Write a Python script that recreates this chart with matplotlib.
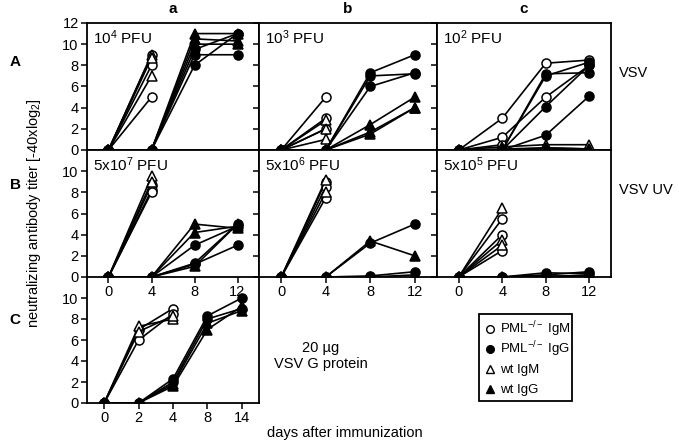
import matplotlib
matplotlib.use('Agg')
import matplotlib.pyplot as plt
from matplotlib.lines import Line2D
from matplotlib.patches import Rectangle
import numpy as np

plt.rcParams['font.family'] = ['Liberation Sans', 'DejaVu Sans']
plt.rcParams['mathtext.fontset'] = 'custom'
plt.rcParams['mathtext.rm'] = 'Liberation Sans'
plt.rcParams['mathtext.it'] = 'Liberation Sans:italic'
plt.rcParams['font.size'] = 10.5

nan = np.nan
days = [0, 4, 8, 12]
days_c = [0, 2, 4, 8, 14]

# row A: VSV
Aa_pml_igm = [[0, 9, nan, nan], [0, 8, nan, nan], [0, 5, nan, nan]]
Aa_wt_igm = [[0, 9, nan, nan], [0, 8.7, nan, nan], [0, 7, nan, nan]]
Aa_pml_igg = [[0, 0, 9, 9], [0, 0, 8, 11], [0, 0, 9.5, 11]]
Aa_wt_igg = [[0, 0, 11, 11], [0, 0, 10.5, 10.3], [0, 0, 10, 10]]

Ab_pml_igm = [[0, 5, nan, nan], [0, 3, nan, nan], [0, 2, nan, nan]]
Ab_wt_igm = [[0, 2.8, nan, nan], [0, 2, nan, nan], [0, 1, nan, nan]]
Ab_pml_igg = [[0, 0, 7.3, 9], [0, 0, 7, 7.2], [0, 0, 6, 7.3]]
Ab_wt_igg = [[0, 0, 2.4, 5], [0, 0, 1.7, 4], [0, 0, 1.5, 4]]

Ac_pml_igm = [[0, 3, 8.2, 8.5], [0, 1.2, 5, 8], [0, 0.5, nan, nan]]
Ac_wt_igm = [[0, 0.3, 0.5, 0.5], [0, 0.1, 0.2, 0.1]]
Ac_pml_igg = [[0, 0, 7.2, 7.3], [0, 0, 7, 8.3], [0, 0, 4.1, 8], [0, 0, 1.4, 5.1]]
Ac_wt_igg = [[0, 0, 0, 0], [0, 0, 0.2, 0.1]]

# row B: VSV UV
Ba_pml_igm = [[0, 8.7, nan, nan], [0, 8.2, nan, nan], [0, 8, nan, nan]]
Ba_wt_igm = [[0, 9.5, nan, nan], [0, 9, nan, nan]]
Ba_pml_igg = [[0, 0, 3, 4.8], [0, 0, 1.3, 5], [0, 0, 1.2, 3]]
Ba_wt_igg = [[0, 0, 5, 4.6], [0, 0, 4.2, 4.8], [0, 0, 1, 5]]

Bb_pml_igm = [[0, 9, nan, nan], [0, 8.5, nan, nan], [0, 7.5, nan, nan]]
Bb_wt_igm = [[0, 9.2, nan, nan], [0, 8, nan, nan]]
Bb_pml_igg = [[0, 0, 3.2, 5], [0, 0, 0.1, 0.5]]
Bb_wt_igg = [[0, 0, 3.4, 2], [0, 0, 0, 0.2]]

Bc_pml_igm = [[0, 5.5, nan, nan], [0, 4, nan, nan], [0, 2.5, nan, nan]]
Bc_wt_igm = [[0, 6.5, nan, nan], [0, 3.5, nan, nan], [0, 3, nan, nan]]
Bc_pml_igg = [[0, 0, 0.4, 0.3], [0, 0, 0.2, 0.5]]
Bc_wt_igg = [[0, 0, 0, 0.2], [0, 0, 0.1, 0.1]]

# row C: 20 ug VSV G protein
C_pml_igm = [[0, 7, 9, nan, nan], [0, 6, 8.5, nan, nan]]
C_wt_igm = [[0, 7.3, 8, nan, nan], [0, 6.8, 8.3, nan, nan]]
C_pml_igg = [[0, 0, 2.3, 8.3, 10], [0, 0, 2, 8, 9]]
C_wt_igg = [[0, 0, 1.6, 7, 9.2], [0, 0, 1.8, 7.6, 8.8]]

legend_labels = ['PML$^{-/-}$ IgM', 'PML$^{-/-}$ IgG', 'wt IgM', 'wt IgG']

panels = {
    (0, 0): (Aa_pml_igm, Aa_wt_igm, Aa_pml_igg, Aa_wt_igg, '10$^4$ PFU'),
    (0, 1): (Ab_pml_igm, Ab_wt_igm, Ab_pml_igg, Ab_wt_igg, '10$^3$ PFU'),
    (0, 2): (Ac_pml_igm, Ac_wt_igm, Ac_pml_igg, Ac_wt_igg, '10$^2$ PFU'),
    (1, 0): (Ba_pml_igm, Ba_wt_igm, Ba_pml_igg, Ba_wt_igg, '5x10$^7$ PFU'),
    (1, 1): (Bb_pml_igm, Bb_wt_igm, Bb_pml_igg, Bb_wt_igg, '5x10$^6$ PFU'),
    (1, 2): (Bc_pml_igm, Bc_wt_igm, Bc_pml_igg, Bc_wt_igg, '5x10$^5$ PFU'),
}

W, H = 679, 445
fig = plt.figure(figsize=(W / 100, H / 100), dpi=100)

cols = [(87, 259), (259, 437), (437, 611)]
rows = [(23, 150), (150, 277), (277, 403)]


def make_ax(c, r):
    x0, x1 = cols[c]
    y0, y1 = rows[r]
    ax = fig.add_axes([x0 / W, 1 - y1 / H, (x1 - x0) / W, (y1 - y0) / H])
    for s in ax.spines.values():
        s.set_linewidth(1.3)
    ax.tick_params(direction='out', length=4, width=1.1, pad=2, labelsize=10.5)
    ax.set_ylim(0, 12)
    return ax


def draw(ax, x, igm_pml, igm_wt, igg_pml, igg_wt):
    kw = dict(color='black', lw=1.2, ms=6.5, mew=1.1)
    for v in igm_pml:
        ax.plot(x, v, marker='o', mfc='white', **kw)
    for v in igm_wt:
        ax.plot(x, v, marker='^', mfc='white', **kw)
    for v in igg_pml:
        ax.plot(x, v, marker='o', mfc='black', **kw)
    for v in igg_wt:
        ax.plot(x, v, marker='^', mfc='black', **kw)


for (r, c), (pm, wm, pg, wg, lab) in panels.items():
    ax = make_ax(c, r)
    draw(ax, days, pm, wm, pg, wg)
    ax.set_xlim(-2, 14)
    ax.set_xticks(days)
    if r == 0:
        ax.set_yticks(range(0, 13, 2))
        ax.set_xticklabels([])
    else:
        ax.set_yticks(range(0, 11, 2))
    if c > 0:
        ax.set_yticklabels([])
    ax.text(0.035, 0.96, lab, transform=ax.transAxes, va='top', ha='left', fontsize=11)

# row C panel
axc = make_ax(0, 2)
draw(axc, range(len(days_c)), C_pml_igm, C_wt_igm, C_pml_igg, C_wt_igg)
axc.set_xlim(-0.5, 4.5)
axc.set_xticks(range(len(days_c)))
axc.set_xticklabels(days_c)
axc.set_yticks(range(0, 11, 2))
axc.spines['top'].set_visible(False)
axc.patch.set_visible(False)

# titles / labels
for lab, (x0, x1) in zip(['a', 'b', 'c'], cols):
    fig.text((x0 + x1) / 2 / W, 1 - 9 / H, lab, ha='center', va='center', fontsize=11, fontweight='bold')
for lab, yy in zip(['A', 'B', 'C'], [62, 185, 320]):
    fig.text(15 / W, 1 - yy / H, lab, ha='center', va='center', fontsize=11, fontweight='bold')
fig.text(619 / W, 1 - 73 / H, 'VSV', ha='left', va='center', fontsize=10.5)
fig.text(619 / W, 1 - 190 / H, 'VSV UV', ha='left', va='center', fontsize=10.5)
fig.text(34 / W, 1 - 213 / H, 'neutralizing antibody titer [-40xlog$_2$]', rotation=90,
         ha='center', va='center', fontsize=10.5)
fig.text(267 / W, 1 - 433 / H, 'days after immunization', ha='left', va='center', fontsize=10.5)
fig.text(321 / W, 1 - 356 / H, '20 µg\nVSV G protein', ha='center', va='center',
         fontsize=10.5, linespacing=1.15)

# legend box, drawn by hand so that the rows are evenly spaced
fig.add_artist(Rectangle((479 / W, 1 - 401 / H), 93 / W, 87 / H, transform=fig.transFigure,
                         fill=False, edgecolor='black', linewidth=1.3))
styles = [('o', 'white'), ('o', 'black'), ('^', 'white'), ('^', 'black')]
for (m, fc), lab, yy in zip(styles, legend_labels, [329, 349, 369, 389]):
    fig.add_artist(Line2D([490 / W], [1 - yy / H], transform=fig.transFigure, ls='none',
                          marker=m, mfc=fc, mec='black', ms=5.5, mew=1))
    fig.text(500 / W, 1 - (yy + 4.5) / H, lab, ha='left', va='baseline', fontsize=9.5)

fig.savefig('out.png', dpi=100)
